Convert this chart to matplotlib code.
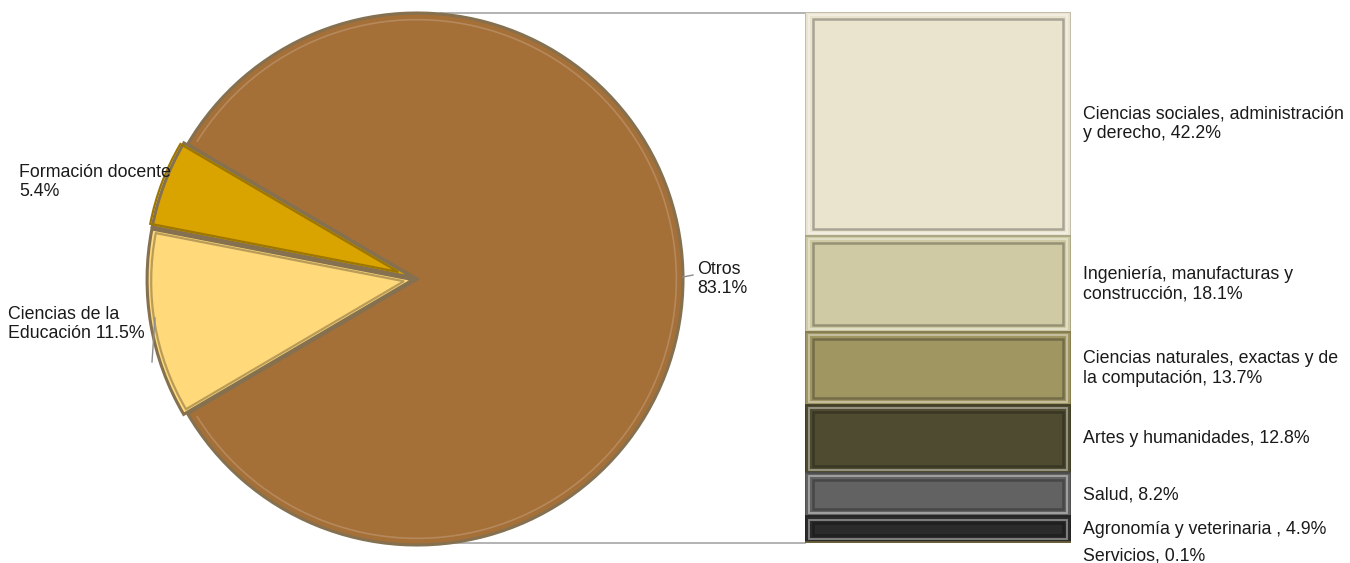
import matplotlib
matplotlib.use("Agg")
import matplotlib.pyplot as plt
from matplotlib.patches import Rectangle, Arc
from matplotlib.lines import Line2D
import matplotlib.colors as mcolors
import numpy as np

plt.rcParams['font.family'] = ['Liberation Sans', 'DejaVu Sans']

# ---- data ----
pie_labels = ["Otros", "Formación docente", "Ciencias de la\nEducación"]
pie_values = [83.1, 5.4, 11.5]
pie_colors = ["#A56F38", "#D9A400", "#FFD97A"]

bar_labels = ["Ciencias sociales, administración\ny derecho",
              "Ingeniería, manufacturas y\nconstrucción",
              "Ciencias naturales, exactas y de\nla computación",
              "Artes y humanidades",
              "Salud",
              "Agronomía y veterinaria ",
              "Servicios"]
bar_values = [42.2, 18.1, 13.7, 12.8, 8.2, 4.9, 0.1]
bar_colors = ["#EAE4CF", "#CFCAA3", "#A09662", "#4F4B30", "#626262", "#2B2B2B", "#8A7A4C"]

W, H = 1350, 563
fig = plt.figure(figsize=(W / 100, H / 100), dpi=100)
fig.patch.set_facecolor("white")

def darker(c, f):
    r, g, b = mcolors.to_rgb(c)
    return (r * f, g * f, b * f)

def lighter(c, f):
    r, g, b = mcolors.to_rgb(c)
    return (r + (1 - r) * f, g + (1 - g) * f, b + (1 - b) * f)

# ---- connector lines (figure pixels) ----
cx, cy, R = 417, 279, 266
bx0, bx1, by0, by1 = 805, 1071, 12, 543
fig.add_artist(Line2D([440 / W, bx0 / W], [1 - 13 / H, 1 - 13 / H],
                      color="#A6A6A6", lw=1.2, zorder=0))
fig.add_artist(Line2D([cx / W, bx0 / W], [1 - 543 / H, 1 - 543 / H],
                      color="#A6A6A6", lw=1.2, zorder=0))

# ---- pie ----
axp = fig.add_axes([(cx - R) / W, (H - cy - R) / H, 2 * R / W, 2 * R / H])
total = sum(pie_values)
small = sum(pie_values[1:]) / total * 360
start = 180 + small / 2
expl = [0.0, 0.015, 0.015]
wedges, _ = axp.pie(pie_values, colors=pie_colors, startangle=start,
                    counterclock=True, radius=1.0, explode=expl,
                    wedgeprops=dict(edgecolor="#85704F", linewidth=2.2))
# inner bevel outlines
inner, _ = axp.pie(pie_values, colors=pie_colors, startangle=start, counterclock=True,
                   radius=0.95, explode=[0.0, 0.075, 0.05],
                   wedgeprops=dict(fill=False, linewidth=1.6))
inner[0].set_visible(False)
inner[1].set_edgecolor(darker(pie_colors[1], 0.72))
inner[2].set_edgecolor(darker(pie_colors[2], 0.72))
w0 = wedges[0]
axp.add_patch(Arc((0, 0), 2 * 0.975, 2 * 0.975, theta1=w0.theta1 + 1.5,
                  theta2=w0.theta2 - 1.5, color=lighter(pie_colors[0], 0.18), lw=1.2))
axp.set_xlim(-1, 1)
axp.set_ylim(-1, 1)
axp.set_aspect("equal")
axp.axis("off")

def pct(v):
    return f"{v:.1f}%"

fs = 12.8
tc = "#1A1A1A"
ls = 1.2
axp.text((697 - cx) / R, 0.0, f"{pie_labels[0]}\n{pct(pie_values[0])}",
         ha="left", va="center", fontsize=fs, color=tc, linespacing=ls, clip_on=False)
axp.text((19 - cx) / R, (cy - 182) / R, f"{pie_labels[1]}\n{pct(pie_values[1])}",
         ha="left", va="center", fontsize=fs, color=tc, linespacing=ls, clip_on=False)
axp.text((8 - cx) / R, (cy - 324) / R, f"{pie_labels[2]} {pct(pie_values[2])}",
         ha="left", va="center", fontsize=fs, color=tc, linespacing=ls, clip_on=False)
# leader lines
axp.plot([(683 - cx) / R, (693 - cx) / R], [(cy - 277) / R, (cy - 275) / R],
         color="#8C8C8C", lw=1, clip_on=False)
axp.plot([(155 - cx) / R, (152 - cx) / R], [(cy - 318) / R, (cy - 362) / R],
         color="#8C8C8C", lw=1, clip_on=False)

# ---- bar ----
axb = fig.add_axes([bx0 / W, (H - by1) / H, (bx1 - bx0) / W, (by1 - by0) / H])
btot = sum(bar_values)
bottoms = np.concatenate([[0], np.cumsum(bar_values)[:-1]]) / btot * 100
heights = np.array(bar_values) / btot * 100
axb.bar([0.5] * len(bar_values), heights, bottom=bottoms, width=1.0,
        color=bar_colors, edgecolor=[darker(c, 0.8) for c in bar_colors],
        linewidth=1.2)
axb.set_xlim(0, 1)
axb.set_ylim(100, 0)
axb.axis("off")

ix = 8 / (bx1 - bx0)
iy = 7 / (by1 - by0) * 100
for b, h, c in zip(bottoms, heights, bar_colors):
    if h > 3 * iy:
        axb.add_patch(Rectangle((ix * 0.5, b + iy * 0.45), 1 - ix, h - iy * 0.9, fill=False,
                                edgecolor=lighter(c, 0.4), linewidth=1.4))
        axb.add_patch(Rectangle((ix, b + iy), 1 - 2 * ix, h - 2 * iy, fill=False,
                                edgecolor=darker(c, 0.72), linewidth=1.8))

for i, (b, h, lab, v) in enumerate(zip(bottoms, heights, bar_labels, bar_values)):
    y = b + h / 2
    if i == len(bar_values) - 1:
        y = b + h / 2 + 13 / (by1 - by0) * 100
    axb.text(1 + 12 / (bx1 - bx0), y, f"{lab}, {pct(v)}", ha="left", va="center",
             fontsize=fs, color=tc, linespacing=ls, clip_on=False)

fig.savefig("out.png", dpi=100, facecolor="white")
